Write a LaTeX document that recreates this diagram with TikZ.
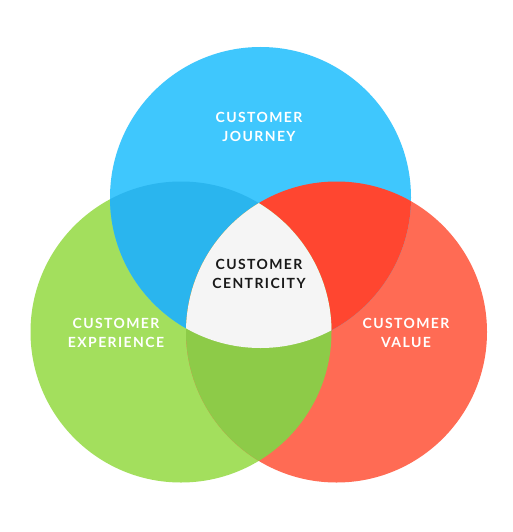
\documentclass[tikz,border=0pt]{standalone}
\usepackage{fontspec}
\setmainfont{Lato}
\newfontfamily\vennfont[LetterSpace=10]{Lato}
\definecolor{journeyblue}{HTML}{3FC7FD}
\definecolor{journeydark}{HTML}{2AB5EE}
\definecolor{valuered}{HTML}{FF6B54}
\definecolor{valuedark}{HTML}{FF4630}
\definecolor{experiencegreen}{HTML}{A3DF5D}
\definecolor{experiencedark}{HTML}{8DCB48}
\definecolor{centregrey}{HTML}{F5F5F5}
\tikzset{
    setname/.style={font=\vennfont\bfseries\fontsize{14}{19}\selectfont,
        text=white, align=center},
}
\begin{document}
\begin{tikzpicture}[x=1pt,y=-1pt]
    \useasboundingbox (0,0) rectangle (513,532);
    \fill[white] (0,0) rectangle (513,532);
    % the three circles
    \coordinate (cj) at (260.5,197.5);
    \coordinate (ce) at (181,332);
    \coordinate (cv) at (336.5,332);
    \foreach \c/\col in {ce/experiencegreen,cv/valuered,cj/journeyblue}
        \fill[\col] (\c) circle (150.5pt);
    % overlaps
    \begin{scope}
        \clip (cj) circle (150.5pt);
        \fill[journeydark] (ce) circle (150.5pt);
    \end{scope}
    \begin{scope}
        \clip (cv) circle (150.5pt);
        \fill[valuedark] (cj) circle (150.5pt);
    \end{scope}
    \begin{scope}
        \clip (ce) circle (150.5pt);
        \fill[experiencedark] (cv) circle (150.5pt);
    \end{scope}
    \begin{scope}
        \clip (cj) circle (150.5pt);
        \clip (ce) circle (150.5pt);
        \fill[centregrey] (cv) circle (150.5pt);
    \end{scope}
    % texts
    \node[setname] (journey) at (259,127) {CUSTOMER\\JOURNEY};
    \node[setname] (experience) at (116,333) {CUSTOMER\\EXPERIENCE};
    \node[setname] (value) at (406,333) {CUSTOMER\\VALUE};
    \node[setname, text=black!90] (centricity) at (259,274) {CUSTOMER\\CENTRICITY};
\end{tikzpicture}
\end{document}
